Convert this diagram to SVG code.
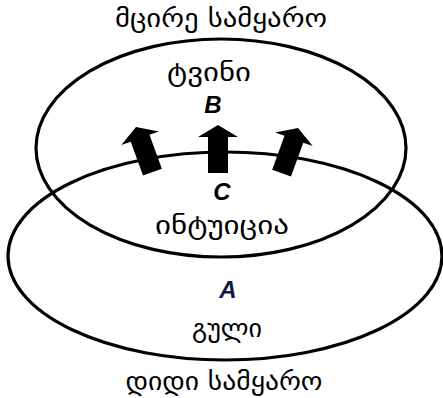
<svg xmlns="http://www.w3.org/2000/svg" width="443" height="398" viewBox="0 0 443 398">
<style>
.geo{font-family:"DejaVu Sans","Noto Sans",sans-serif;font-size:25px;fill:#000;text-anchor:middle}
.let{font-family:"Liberation Sans","DejaVu Sans",sans-serif;font-size:24px;font-weight:bold;font-style:italic;text-anchor:middle}
.ell{fill:none;stroke:#000;stroke-width:3.2}
</style>
<defs>
<path id="arr" d="M0,0 L20,12 L10,12 L10,48 L-10,48 L-10,12 L-20,12 Z" fill="#000"/>
</defs>
<g id="large-world">
<ellipse class="ell" cx="225" cy="256" rx="217" ry="104"/>
</g>
<g id="small-world">
<ellipse class="ell" cx="221" cy="148" rx="185" ry="109"/>
</g>
<g id="connectors">
<use href="#arr" transform="translate(136,127) rotate(-20)"/>
<use href="#arr" transform="translate(218,125)"/>
<use href="#arr" transform="translate(298,128) rotate(20)"/>
</g>
<g id="labels">
<text class="geo" x="221" y="27" textLength="212" lengthAdjust="spacingAndGlyphs">მცირე სამყარო</text>
<text class="geo" x="209" y="81" textLength="84" lengthAdjust="spacingAndGlyphs">ტვინი</text>
<text class="let" x="213" y="113">B</text>
<text class="let" x="222" y="200">C</text>
<text class="geo" x="222" y="234" textLength="134" lengthAdjust="spacingAndGlyphs">ინტუიცია</text>
<text class="let" x="228" y="298" fill="#101848">A</text>
<text class="geo" x="227" y="337" textLength="70" lengthAdjust="spacingAndGlyphs">გული</text>
<text class="geo" x="224" y="390" textLength="197" lengthAdjust="spacingAndGlyphs">დიდი სამყარო</text>
</g>
</svg>
